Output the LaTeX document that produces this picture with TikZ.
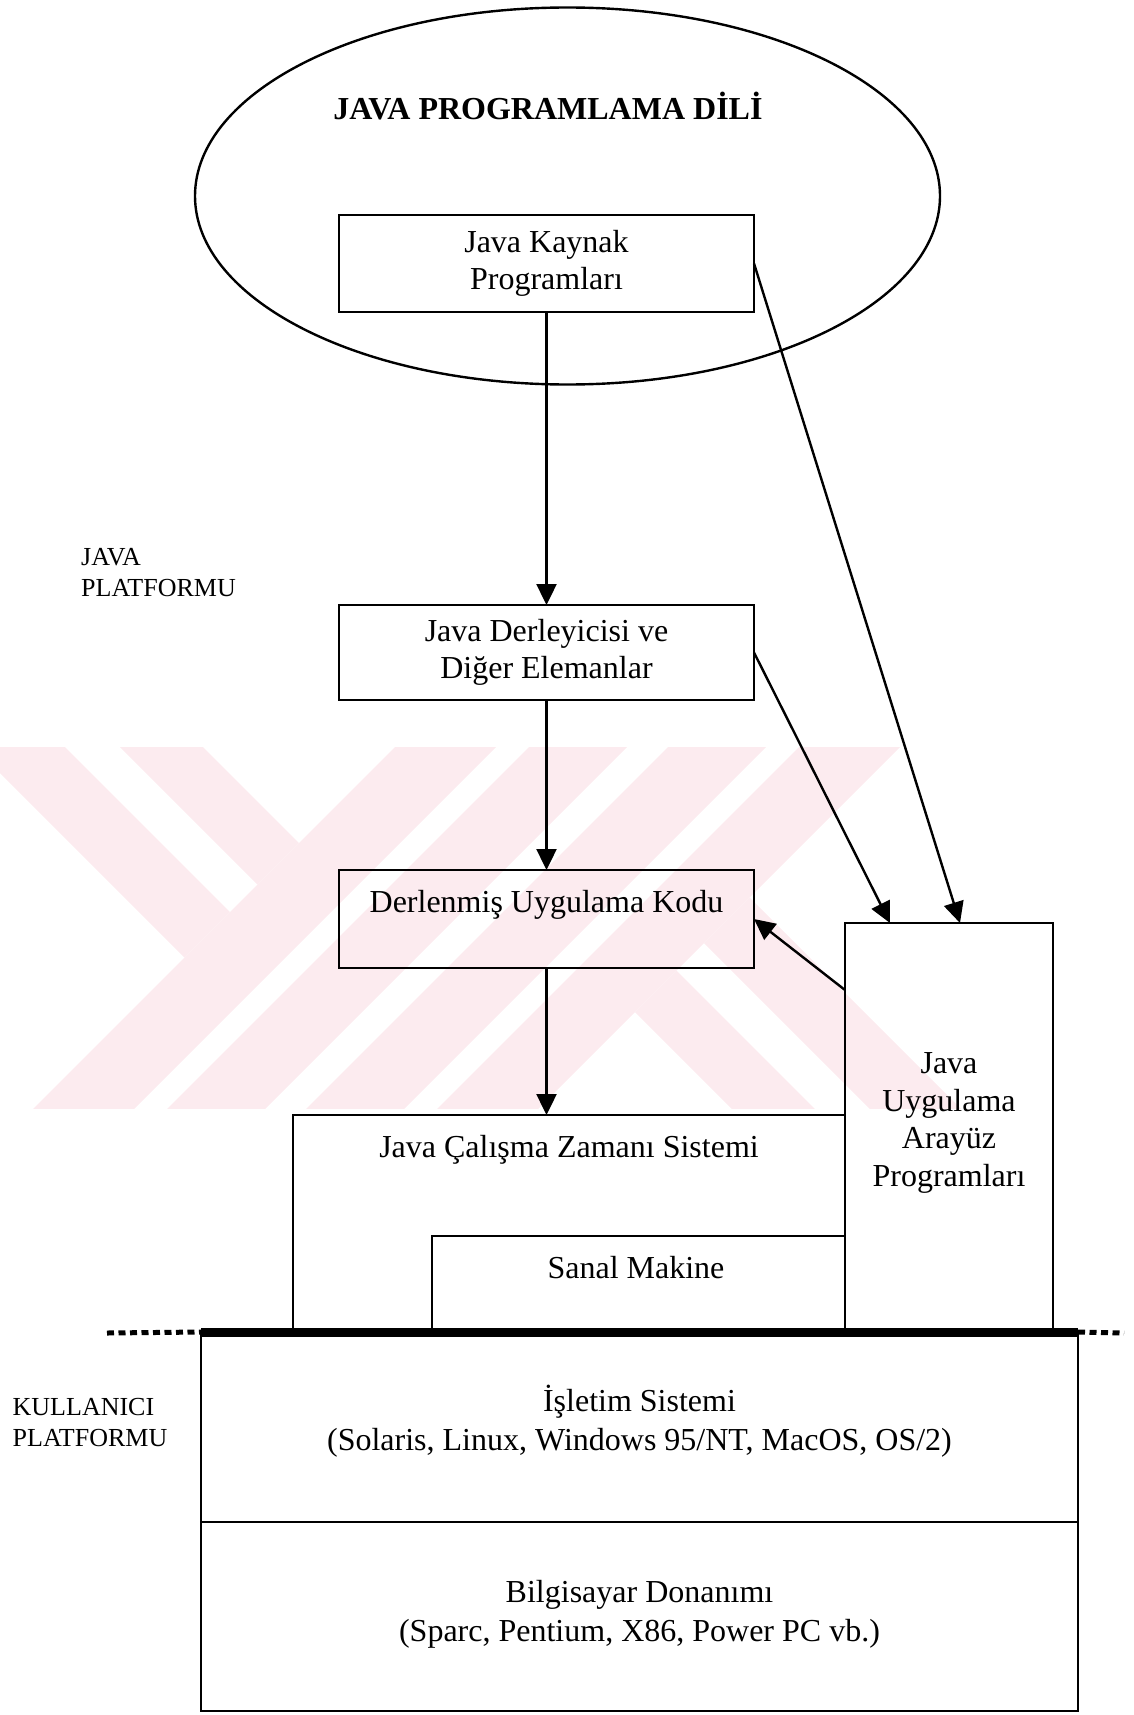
\documentclass[tikz,border=0pt]{standalone}
\usepackage{fontspec}
\setmainfont{Liberation Serif}
\usetikzlibrary{arrows.meta,calc,shapes.geometric}
\definecolor{wm}{RGB}{252,235,239}
\tikzset{
  box/.style={draw, line width=2.6pt, inner sep=0pt, outer sep=0pt, anchor=north west},
  txt/.style={font=\fontsize{32}{37}\selectfont, align=center, inner sep=0pt},
  lbl/.style={font=\fontsize{26}{31}\selectfont, align=left, inner sep=0pt, anchor=north west},
  arr/.style={line width=2.4pt, -{Triangle[length=21pt,width=20pt]}},
}
\begin{document}
\begin{tikzpicture}[x=1pt,y=-1pt]
\useasboundingbox (0,0) rectangle (1133,1715);
% faint watermark
\begin{scope}
  \clip (0,747) rectangle (1133,1108);
  \fill[wm] (-300,473) -- (184.5,957.5) -- (230,912) -- (-200,482) -- cycle;
  \fill[wm] (-100,527) -- (257.5,884.5) -- (299,843) -- (0,544) -- cycle;
  \fill[wm] (542,600) -- (-58,1200) -- (43,1200) -- (643,600) -- cycle;
  \fill[wm] (676,600) -- (76,1200) -- (174,1200) -- (774,600) -- cycle;
  \fill[wm] (815,600) -- (215,1200) -- (313,1200) -- (913,600) -- cycle;
  \fill[wm] (946,600) -- (346,1200) -- (447,1200) -- (1047,600) -- cycle;
  \fill[wm] (704,943) -- (1061,1300) -- (1152,1300) -- (749.5,897.5) -- cycle;
  \fill[wm] (635,1012) -- (923,1300) -- (1006,1300) -- (676.5,970.5) -- cycle;
\end{scope}

% ellipse with title
\node[draw, ellipse, line width=2.4pt, inner sep=0pt, minimum width=745pt, minimum height=377pt] (ell) at (567.5,196) {};
\node[txt, font=\fontsize{32}{36}\selectfont\bfseries, anchor=base] (title) at (548,120) {JAVA PROGRAMLAMA DİLİ};

% boxes
\node[box, txt, minimum width=415pt, minimum height=97pt] (b1) at (339,215) {Java Kaynak\\Programları};
\node[box, txt, minimum width=415pt, minimum height=95pt] (b2) at (339,605) {Java Derleyicisi ve\\Diğer Elemanlar};
\node[box, minimum width=415pt, minimum height=98pt] (b3) at (339,870) {};
\node[txt, anchor=base] (b3t) at (546.5,912) {Derlenmiş Uygulama Kodu};

\node[box, minimum width=552pt, minimum height=217pt] (jczs) at (293,1115) {};
\node[txt, anchor=base] (jczst) at (569,1157) {Java Çalışma Zamanı Sistemi};
\node[box, minimum width=413pt, minimum height=96pt] (sanal) at (432,1236) {};
\node[txt, anchor=base] (sanalt) at (636,1278) {Sanal Makine};

\node[box, minimum width=208pt, minimum height=409pt] (juap) at (845,923) {};
\node[txt, font=\fontsize{32}{37.5}\selectfont] (juapt) at (949,1123) {Java\\Uygulama\\Arayüz\\Programları};

\node[box, minimum width=877pt, minimum height=190pt] (os) at (201,1332) {};
\node[txt, font=\fontsize{32}{39}\selectfont] (ost) at (639.5,1421) {İşletim Sistemi\\(Solaris, Linux, Windows 95/NT, MacOS, OS/2)};
\node[box, minimum width=877pt, minimum height=189pt] (hw) at (201,1522) {};
\node[txt, font=\fontsize{32}{39}\selectfont] (hwt) at (639.5,1614) {Bilgisayar Donanımı\\(Sparc, Pentium, X86, Power PC vb.)};

% platform separator
\coordinate (dl) at (107,1333);
\coordinate (dr) at (1124,1333);
\draw[line width=9pt] (os.north west) -- (os.north east);
\draw[line width=5pt, dash pattern=on 7pt off 4.5pt] (dl) -- (os.north west);
\draw[line width=5pt, dash pattern=on 7pt off 4.5pt] (os.north east) -- (dr);

% side labels
\node[lbl] (jp) at (81,548) {JAVA\\PLATFORMU};
\node[lbl] (kp) at (12.5,1398) {KULLANICI\\PLATFORMU};

% connectors
\draw[arr] (b1.south) -- (b2.north);
\draw[arr] (b2.south) -- (b3.north);
\draw[arr] (b3.south) -- (b3.south |- jczs.north);
\draw[arr] (b1.east) -- ([xshift=11pt]juap.north);
\draw[arr] (b2.east) -- ([xshift=-59pt]juap.north);
\draw[arr] ([yshift=-67pt]juap.north west) -- (b3.east);
\end{tikzpicture}
\end{document}
